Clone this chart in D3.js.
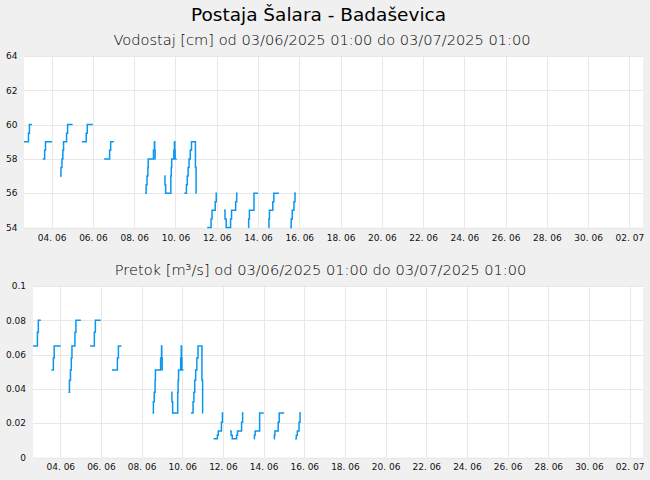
<!DOCTYPE html>
<html><head><meta charset="utf-8">
<script src="https://cdn.jsdelivr.net/npm/d3@7"></script>
<style>
html,body{margin:0;padding:0;background:#f0f0f0;}
svg{display:block;font-family:"DejaVu Sans",Verdana,sans-serif;}
</style>
</head><body>
<svg id="chart" width="650" height="480"></svg>
<script>
// ---------- data ----------
const chartTitle = "Postaja Šalara - Badaševica";
const levelTitle = "Vodostaj [cm] od 03/06/2025 01:00 do 03/07/2025 01:00";
const flowTitle = "Pretok [m³/s] od 03/06/2025 01:00 do 03/07/2025 01:00";
const startTime = new Date(2025, 5, 3, 1, 0);
const endTime = new Date(2025, 6, 3, 1, 0);
const tickDays = [[4,6],[6,6],[8,6],[10,6],[12,6],[14,6],[16,6],[18,6],[20,6],[22,6],[24,6],[26,6],[28,6],[30,6],[2,7]];
const levelTicks = [54, 56, 58, 60, 62, 64];
const flowTicks = [0, 0.02, 0.04, 0.06, 0.08, 0.1];

// hours after 03/06/2025 01:00 (null = gap in record)
const hours = [
  0, 5.2, 6.3, 9.2, null,
  21.8, 24.0, 25.0, 32.7, null,
  41.8, 43.0, 44.2, 45.2, 46.0, 49.5, 50.7, 56.5, null,
  67.4, 72.4, 73.6, 80.1, null,
  93.2, 99.6, 100.8, 104.5, null,
  141.0, 142.1, 143.1, 144.1, 144.5, 150.6, 151.7, 152.0, 152.5, 153.0, null,
  163.2, 164.0, 164.8, 170.8, 171.3, 171.8, 174.3, 175.0, 175.4, 175.8, 177.6, null,
  186.5, 188.9, 189.9, 190.9, 192.0, 193.4, 194.8, 199.4, 200.2, 200.5, null,
  213.1, 217.6, 218.7, 222.4, 223.6, 224.6, null,
  232.6, 233.8, 235.2, 240.3, 241.4, 246.2, 247.4, 248.5, null,
  261.0, 261.3, 262.2, 267.5, 272.2, null,
  284.5, 284.9, 285.5, 289.4, 290.6, 296.5, null,
  309.5, 310.8, 312.0, 314.0, 315.2, 316.4
];
const level = [
  59, 59.5, 60, 60, null,
  58, 58.5, 59, 59, null,
  57, 57.5, 58, 58.5, 59, 59.5, 60, 60, null,
  59, 59.5, 60, 60, null,
  58, 58.5, 59, 59, null,
  56, 56.5, 57, 57.5, 58, 58.5, 59, 58.5, 58, 58, null,
  57, 56.5, 56, 57, 57.5, 58, 58.5, 59, 58.5, 58, 58, null,
  56, 56.5, 57, 57.5, 58, 58.5, 59, 57.5, 56, 56, null,
  54, 54.5, 55, 55.5, 56, 56, null,
  55, 54.5, 54, 54.5, 55, 55.5, 56, 56, null,
  54, 54.5, 55, 56, 56, null,
  54, 54.5, 55, 55.5, 56, 56, null,
  54, 54.5, 55, 55.5, 56, 56
];
const flow = [
  0.065, 0.073, 0.080, 0.080, null,
  0.051, 0.058, 0.065, 0.065, null,
  0.038, 0.045, 0.051, 0.058, 0.065, 0.073, 0.080, 0.080, null,
  0.065, 0.073, 0.080, 0.080, null,
  0.051, 0.058, 0.065, 0.065, null,
  0.026, 0.0325, 0.038, 0.045, 0.051, 0.058, 0.065, 0.058, 0.051, 0.051, null,
  0.038, 0.0325, 0.026, 0.038, 0.045, 0.051, 0.058, 0.065, 0.058, 0.051, 0.051, null,
  0.026, 0.0325, 0.038, 0.045, 0.051, 0.058, 0.065, 0.045, 0.026, 0.026, null,
  0.011, 0.013, 0.0155, 0.0205, 0.026, 0.026, null,
  0.0155, 0.013, 0.011, 0.013, 0.0155, 0.0205, 0.026, 0.026, null,
  0.011, 0.013, 0.0155, 0.026, 0.026, null,
  0.011, 0.013, 0.0155, 0.0205, 0.026, 0.026, null,
  0.011, 0.013, 0.0155, 0.0205, 0.026, 0.026
];

// ---------- drawing ----------
const svg = d3.select("#chart");
const W = 650, H = 480;
const lineColor = "#0a97ee";
const gridColor = "#e8e8e8";

svg.append("rect").attr("width", W).attr("height", H).attr("fill", "#f0f0f0");

svg.append("text").attr("x", 318.5).attr("y", 21)
  .attr("text-anchor", "middle").attr("font-size", "18.5px").attr("fill", "#000")
  .text(chartTitle);

const tickDates = tickDays.map(([d, m]) => new Date(2025, m - 1, d, 9, 12));
const fmtDay = d3.timeFormat("%d. %m");

function panel(opt) {
  const {left, right, top, bottom, yDomain, yTicks, yFmt, values, subtitle, subY, subX, labelX, xLabelY} = opt;
  const x = d3.scaleTime().domain([startTime, endTime]).range([left, right]);
  const y = d3.scaleLinear().domain(yDomain).range([bottom, top]);

  svg.append("text").attr("x", subX).attr("y", subY).attr("text-anchor", "middle")
    .attr("font-size", "14.6px").attr("font-weight", 200).attr("fill", "#000")
    .text(subtitle);

  const g = svg.append("g");
  g.append("rect").attr("x", left).attr("y", top).attr("width", right - left).attr("height", bottom - top)
    .attr("fill", "#fff");

  // grid
  g.selectAll("line.vg").data(tickDates).enter().append("line")
    .attr("x1", d => Math.round(x(d)) + 0.5).attr("x2", d => Math.round(x(d)) + 0.5)
    .attr("y1", top).attr("y2", bottom).attr("stroke", gridColor).attr("stroke-width", 1);
  g.selectAll("line.hg").data(yTicks).enter().append("line")
    .attr("x1", left).attr("x2", right)
    .attr("y1", d => Math.round(y(d)) + 0.5).attr("y2", d => Math.round(y(d)) + 0.5)
    .attr("stroke", gridColor).attr("stroke-width", 1);

  // axes labels via d3 axes (no domain lines / tick marks)
  const xAxis = d3.axisBottom(x).tickValues(tickDates).tickFormat(fmtDay).tickSize(0).tickPadding(0);
  const xg = svg.append("g").attr("transform", `translate(0,${xLabelY})`).call(xAxis);
  xg.select(".domain").remove();
  xg.selectAll("text").attr("font-size", "9px").attr("fill", "#111")
    .attr("font-family", "DejaVu Sans, sans-serif").attr("dy", "0");

  const yAxis = d3.axisLeft(y).tickValues(yTicks).tickFormat(yFmt).tickSize(0).tickPadding(0);
  const yg = svg.append("g").attr("transform", `translate(${labelX},0)`).call(yAxis);
  yg.select(".domain").remove();
  yg.selectAll("text").attr("font-size", "9px").attr("fill", "#111")
    .attr("font-family", "DejaVu Sans, sans-serif").attr("dy", "0.3em");

  const pts = hours.map((h, i) => ({t: h == null ? null : new Date(startTime.getTime() + h * 3600000), v: values[i]}));
  const line = d3.line()
    .defined(d => d.t != null && d.v != null)
    .x(d => x(d.t)).y(d => y(d.v))
    .curve(d3.curveStepAfter);
  g.append("path").datum(pts).attr("d", line)
    .attr("fill", "none").attr("stroke", lineColor).attr("stroke-width", 1.5);
}

panel({left: 24, right: 643, top: 56, bottom: 227.5, yDomain: [54, 64], yTicks: levelTicks,
  yFmt: d3.format("d"), values: level, subtitle: levelTitle, subY: 45, subX: 322, labelX: 17.5, xLabelY: 240.5});
panel({left: 33, right: 643, top: 286, bottom: 457.5, yDomain: [0, 0.1], yTicks: flowTicks,
  yFmt: d => String(+d.toFixed(2)), values: flow, subtitle: flowTitle, subY: 275, subX: 320.5, labelX: 26, xLabelY: 469.5});
</script>
</body></html>
